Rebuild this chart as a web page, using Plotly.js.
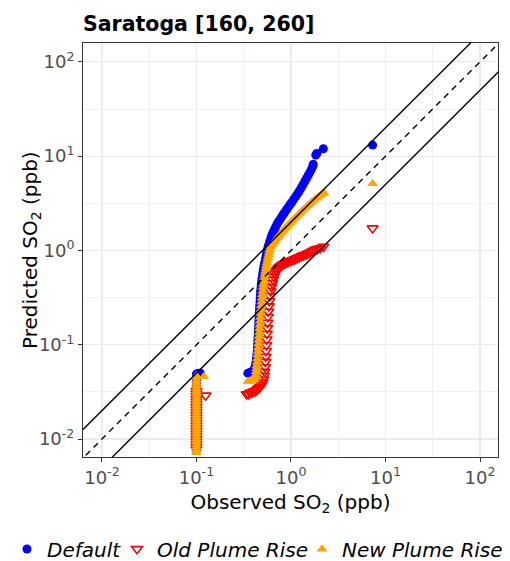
<!DOCTYPE html>
<html><head><meta charset="utf-8">
<script src="https://cdn.plot.ly/plotly-3.0.1.min.js"></script>
<style>body{margin:0;padding:0;background:#fff}#chart{width:510px;height:561px}</style>
</head><body><div id="chart"></div>
<script>
// ---- data (observed vs predicted SO2 quantiles, ppb) ----
const seriesNames = ['Default', 'Old Plume Rise', 'New Plume Rise'];

const defX = [0.1,0.1,0.1,0.1,0.1,0.1,0.1,0.1,0.1,0.1,0.1,0.1,0.1,0.1,0.1,0.1,0.1,0.1,0.1,0.1,0.1,0.1,0.1,0.1,0.1,0.1,0.1,0.1,0.1,0.1,0.105,0.11,
  0.35,0.37,0.39,0.405,
  0.415,0.42,0.425,0.429,0.433,0.436,0.438,0.44,0.442,0.444,0.446,0.448,0.45,0.452,0.454,0.456,0.458,0.46,0.462,0.465,0.467,0.47,0.472,0.475,0.478,0.482,0.485,0.489,0.493,
  0.5,0.505,0.511,0.517,0.524,0.531,0.538,0.545,0.551,0.557,0.563,0.57,0.577,0.585,0.592,0.6,
  0.617,0.635,0.655,0.675,0.697,0.72,0.745,0.77,0.8,0.83,0.86,0.9,0.94,0.98,1.02,1.07,1.12,1.17,1.22,1.28,1.34,1.4,1.46,1.52,1.58,1.64,1.7,1.72,1.83,1.88,2.2,7.3];
const defY = [0.0076,0.0082,0.0088,0.0094,0.010,0.0107,0.0114,0.0122,0.013,0.0139,0.0148,0.0158,0.0168,0.018,0.0192,0.0205,0.0219,0.0234,0.025,0.0267,0.0285,0.0305,0.0325,0.0347,0.037,0.0395,0.042,0.045,0.048,0.049,0.05,0.05,
  0.05,0.051,0.052,0.054,
  0.057,0.06,0.063,0.067,0.072,0.077,0.082,0.088,0.095,0.102,0.11,0.12,0.13,0.142,0.155,0.17,0.185,0.2,0.22,0.24,0.26,0.285,0.31,0.34,0.37,0.4,0.43,0.465,0.5,
  0.54,0.58,0.625,0.67,0.715,0.76,0.81,0.86,0.91,0.96,1.01,1.06,1.11,1.16,1.21,1.27,
  1.39,1.5,1.6,1.7,1.82,1.95,2.05,2.15,2.28,2.42,2.55,2.72,2.9,3.07,3.25,3.48,3.72,3.98,4.25,4.6,4.98,5.38,5.8,6.25,6.7,7.2,7.8,8.2,10.3,10.7,12.0,13.1];

const oldX = [0.1,0.1,0.1,0.1,0.1,0.1,0.1,0.1,0.1,0.1,0.1,0.1,0.1,0.1,0.1,0.1,0.1,0.1,0.1,0.1,0.1,0.1,0.1,0.125,
  0.34,0.355,0.37,0.385,0.40,0.415,0.43,0.445,0.46,0.475,0.49,0.5,0.51,0.518,0.525,0.531,0.536,0.541,0.545,0.549,0.553,0.557,0.561,0.565,0.57,0.576,0.583,0.591,0.6,0.61,
  0.621,0.633,0.646,0.66,0.676,0.693,0.712,0.732,0.755,0.78,0.81,0.84,0.87,0.91,0.95,1.0,1.05,1.1,1.16,1.22,1.29,1.36,1.44,1.52,1.61,1.7,1.8,1.9,2.03,2.2,7.3];
const oldY = [0.0078,0.0083,0.0089,0.0095,0.0101,0.0108,0.0115,0.0123,0.0131,0.014,0.0149,0.0159,0.017,0.0181,0.0193,0.0206,0.022,0.0235,0.025,0.0267,0.0285,0.0305,0.0325,0.029,
  0.030,0.030,0.031,0.031,0.032,0.032,0.033,0.034,0.035,0.036,0.038,0.04,0.043,0.047,0.052,0.058,0.066,0.075,0.086,0.099,0.114,0.131,0.15,0.172,0.197,0.225,0.256,0.29,0.33,0.37,
  0.41,0.45,0.49,0.53,0.565,0.595,0.62,0.645,0.665,0.685,0.705,0.72,0.735,0.75,0.765,0.78,0.795,0.81,0.83,0.85,0.87,0.89,0.91,0.93,0.96,0.99,1.02,1.04,1.06,1.1,1.72];

const newX = [0.1,0.1,0.1,0.1,0.1,0.1,0.1,0.1,0.1,0.1,0.1,0.1,0.1,0.1,0.1,0.1,0.1,0.1,0.1,0.1,0.1,0.1,0.1,0.1,0.1,0.1,0.1,0.1,0.1,0.1,0.12,
  0.35,0.365,0.38,0.395,0.41,
  0.42,0.425,0.429,0.433,0.436,0.439,0.442,0.445,0.448,0.451,0.454,0.457,0.46,0.463,0.466,0.469,0.472,0.475,0.478,0.482,0.486,0.49,0.494,0.498,0.503,0.508,0.513,0.518,0.524,0.53,0.536,0.543,0.55,0.557,0.565,0.573,0.582,0.59,0.598,
  0.615,0.633,0.652,0.672,0.695,0.72,0.745,0.77,0.8,0.83,0.86,0.9,0.94,0.98,1.02,1.07,1.12,1.18,1.24,1.3,1.37,1.44,1.51,1.59,1.67,1.76,1.86,1.97,2.1,2.25,7.3];
const newY = [0.0072,0.0077,0.0082,0.0088,0.0094,0.01,0.0107,0.0114,0.0122,0.013,0.0139,0.0148,0.0158,0.0168,0.018,0.0192,0.0205,0.0219,0.0234,0.025,0.0267,0.0285,0.0305,0.0325,0.0347,0.037,0.0395,0.042,0.045,0.047,0.046,
  0.041,0.041,0.042,0.042,0.043,
  0.045,0.048,0.052,0.056,0.06,0.065,0.071,0.078,0.085,0.093,0.102,0.112,0.123,0.135,0.148,0.162,0.178,0.195,0.215,0.237,0.26,0.285,0.312,0.34,0.37,0.405,0.44,0.48,0.52,0.56,0.6,0.645,0.69,0.74,0.79,0.84,0.9,0.96,1.02,
  1.1,1.15,1.2,1.25,1.31,1.37,1.43,1.49,1.56,1.63,1.7,1.79,1.88,1.96,2.04,2.14,2.24,2.36,2.48,2.6,2.73,2.86,2.99,3.13,3.27,3.42,3.58,3.74,3.9,4.05,5.1];

const tickVals = [0.01, 0.1, 1, 10, 100];
const tickText = ['10<sup>-2</sup>', '10<sup>-1</sup>', '10<sup>0</sup>', '10<sup>1</sup>', '10<sup>2</sup>'];
const refFactors = [0.5, 1, 2];
const refDash = ['solid', '6px,5px', 'solid'];

// ---- layout constants ----
const W = 510, H = 561;
const M = {l: 83, r: 12, t: 43, b: 104};
const plotW = W - M.l - M.r, plotH = H - M.t - M.b;
const xRangeLog = [-2.2, 2.19];
const yRangeLog = [-2.19, 2.2];
const minorVals = tickVals.map(v => v * Math.sqrt(10));
const FONT = 'DejaVu Sans, Arial, sans-serif';
const legendLeftPx = [7, 117, 302];
const legendIds = ['legend', 'legend2', 'legend3'];

const traces = [
  {x: defX, y: defY, name: seriesNames[0], type: 'scatter', mode: 'markers', legend: legendIds[0],
   marker: {symbol: 'circle', size: 9, color: '#0000ff', line: {width: 0}}},
  {x: oldX, y: oldY, name: seriesNames[1], type: 'scatter', mode: 'markers', legend: legendIds[1],
   marker: {symbol: 'triangle-down-open', size: 9.5, color: '#ff0000', line: {width: 1.6, color: '#ff0000'}}},
  {x: newX, y: newY, name: seriesNames[2], type: 'scatter', mode: 'markers', legend: legendIds[2],
   marker: {symbol: 'triangle-up', size: 9.5, color: '#ffa500', line: {width: 0}}}
];
const lx = [Math.pow(10, xRangeLog[0] - 0.3), Math.pow(10, xRangeLog[1] + 0.3)];
refFactors.forEach((f, i) => {
  traces.push({x: lx, y: lx.map(v => v * f), type: 'scatter', mode: 'lines', showlegend: false,
    hoverinfo: 'skip', line: {color: '#000000', width: 1.4, dash: refDash[i]}});
});

const axisCommon = {
  type: 'log', tickmode: 'array', tickvals: tickVals, ticktext: tickText,
  ticks: 'outside', ticklen: 4, tickwidth: 1, tickcolor: '#333333',
  showgrid: true, gridcolor: '#ebebeb', gridwidth: 1.2,
  minor: {tickmode: 'array', tickvals: minorVals, showgrid: true, gridcolor: '#ebebeb', gridwidth: 0.7, ticks: ''},
  showline: true, mirror: true, linecolor: '#333333', linewidth: 1, zeroline: false,
  tickfont: {family: FONT, size: 18, color: '#4d4d4d'}
};

const layout = {
  width: W, height: H,
  margin: Object.assign({autoexpand: false}, M),
  paper_bgcolor: '#ffffff', plot_bgcolor: '#ffffff',
  font: {family: FONT, color: '#000000'},
  title: {text: 'Saratoga [160, 260]', font: {family: FONT, size: 20.5, weight: 'bold', color: '#000000'},
          xref: 'paper', x: 0, xanchor: 'left', yref: 'container', y: 1 - 24/H, yanchor: 'middle'},
  xaxis: Object.assign({}, axisCommon, {range: xRangeLog,
    title: {text: 'Observed SO<sub>2</sub> (ppb)', font: {family: FONT, size: 20, color: '#000000'}, standoff: 8}}),
  yaxis: Object.assign({}, axisCommon, {range: yRangeLog}),
  annotations: [{
    text: 'Predicted SO<sub>2</sub> (ppb)', textangle: -90, showarrow: false,
    xref: 'paper', x: (31 - M.l) / plotW, xanchor: 'center',
    yref: 'paper', y: 0.5, yanchor: 'middle',
    font: {family: FONT, size: 20, color: '#000000'}
  }],
  showlegend: true
};
legendIds.forEach((id, i) => {
  layout[id] = {orientation: 'h', xref: 'paper', x: (legendLeftPx[i] - M.l) / plotW, xanchor: 'left',
    yref: 'paper', y: (H - M.b - 549) / plotH, yanchor: 'middle',
    font: {family: FONT, size: 20, style: 'italic', color: '#000000'}, itemwidth: 30, bgcolor: 'rgba(0,0,0,0)'};
});

Plotly.newPlot('chart', traces, layout, {displayModeBar: false, staticPlot: true});
</script>
</body></html>
